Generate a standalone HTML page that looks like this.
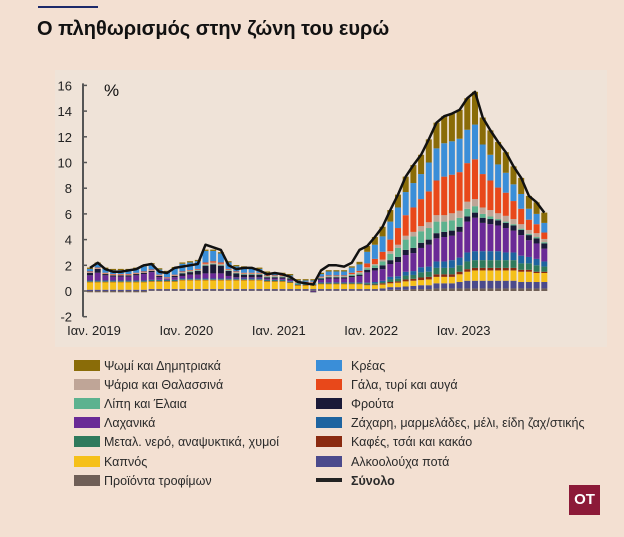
<!DOCTYPE html>
<html><head><meta charset="utf-8"><style>
body{margin:0;width:624px;height:537px;background:#f3e0d2;font-family:"Liberation Sans","DejaVu Sans",sans-serif;overflow:hidden;position:relative}
.lg{position:absolute;font-size:12.5px;color:#2a2a2a;height:14px;line-height:14px}
.sw{position:absolute;width:26px;height:11px}
</style></head><body>
<div style="position:absolute;left:38px;top:6px;width:60px;height:2px;background:#1d2a6b"></div>
<div style="position:absolute;left:37px;top:18px;font-size:20px;font-weight:bold;color:#111">Ο πληθωρισμός στην ζώνη του ευρώ</div>
<div style="position:absolute;left:55px;top:70px;width:552px;height:277px;background:#efe3d8"></div>
<svg id="chart" width="624" height="537" style="position:absolute;left:0;top:0"></svg>
<div id="legend"></div>
<div style="position:absolute;left:569px;top:485px;width:31px;height:30px;background:#8c1a38;color:#fff;font-weight:bold;font-size:15px;line-height:30px;text-align:center">OT</div>
<script>
const years=["Ιαν. 2019","Ιαν. 2020","Ιαν. 2021","Ιαν. 2022","Ιαν. 2023"];
const yTicks=[-2,0,2,4,6,8,10,12,14,16];
const total=[1.8,2.2,1.7,1.5,1.5,1.6,1.7,2.0,2.1,1.5,1.4,1.8,
1.9,2.0,2.1,3.6,3.4,3.2,2.0,1.7,1.8,1.8,1.6,1.3,
1.4,1.3,1.1,0.7,0.6,0.5,1.6,2.0,2.0,1.9,2.2,3.2,
3.5,4.2,5.0,6.3,7.5,8.9,9.8,10.6,11.8,13.1,13.6,13.8,
14.1,15.0,15.5,13.5,12.5,11.6,10.8,9.7,8.8,7.4,6.9,6.1];
const bread=[0.1,0.1,0.1,0.1,0.1,0.1,0.1,0.1,0.1,0.1,0.1,0.1,0.1,0.1,0.1,0.1,0.1,0.1,0.1,0.1,0.1,0.1,0.1,0.1,0.1,0.1,0.1,0.1,0.1,0.1,0.1,0.1,0.1,0.1,0.1,0.2,
0.45,0.6,0.75,0.9,1.0,1.2,1.4,1.5,1.8,2.0,2.1,2.15,2.25,2.45,2.55,2.1,1.9,1.75,1.6,1.4,1.25,1.0,0.9,0.8];
const fish=[0.05,0.05,0.05,0.05,0.05,0.05,0.05,0.05,0.05,0.05,0.05,0.05,0.05,0.05,0.05,0.1,0.1,0.1,0.05,0.05,0.05,0.05,0.05,0.05,0.05,0.05,0.05,0.05,0.05,0.05,0.05,0.05,0.05,0.05,0.05,0.1,
0.1,0.1,0.15,0.2,0.25,0.3,0.35,0.4,0.45,0.5,0.5,0.55,0.55,0.55,0.55,0.5,0.5,0.45,0.45,0.4,0.35,0.3,0.3,0.25];
const oils=[0,0,0,0,0,0,0,0,0,0,0,0,0.05,0.05,0.05,0.05,0.05,0.05,0.05,0.05,0.05,0.05,0.05,0.05,0.05,0.05,0.05,0.05,0.05,0.05,0.05,0.05,0.05,0.05,0.1,0.1,
0.1,0.2,0.3,0.5,0.7,0.8,0.9,0.9,0.9,0.9,0.8,0.8,0.7,0.6,0.5,0.3,0.2,0.1,0.1,0.1,0.1,0.1,0.1,0.1];
const veg=[0.4,0.6,0.4,0.3,0.3,0.3,0.4,0.5,0.6,0.2,0.1,0.2,0.2,0.3,0.3,0.4,0.4,0.4,0.2,0.1,0.1,0.1,0.1,0.1,0.1,0.1,0.1,0,0,-0.05,0.2,0.3,0.3,0.3,0.4,0.5,
0.8,0.9,0.9,1.0,1.1,1.3,1.4,1.5,1.7,1.8,1.9,1.9,2.0,2.4,2.6,2.2,2.1,2.0,1.9,1.7,1.6,1.3,1.2,1.0];
const water=[0.05,0.05,0.05,0.05,0.05,0.05,0.05,0.05,0.05,0.05,0.05,0.05,0.05,0.05,0.05,0.05,0.05,0.05,0.05,0.05,0.05,0.05,0.05,0.05,0.05,0.05,0.05,0.05,0.05,0.05,0.05,0.05,0.05,0.05,0.05,0.05,
0.1,0.1,0.1,0.2,0.2,0.3,0.3,0.4,0.4,0.5,0.5,0.5,0.5,0.6,0.6,0.6,0.6,0.6,0.6,0.6,0.5,0.5,0.5,0.4];
const tobacco=[0.6,0.6,0.6,0.6,0.6,0.6,0.6,0.6,0.6,0.6,0.6,0.6,0.7,0.7,0.7,0.7,0.7,0.7,0.7,0.7,0.7,0.7,0.7,0.6,0.6,0.6,0.5,0.3,0.3,0.3,0.4,0.4,0.4,0.4,0.4,0.4,
0.3,0.3,0.3,0.3,0.35,0.4,0.4,0.4,0.45,0.5,0.5,0.5,0.6,0.7,0.8,0.8,0.8,0.8,0.8,0.8,0.8,0.8,0.7,0.7];
const food=[-0.1,-0.1,-0.1,-0.1,-0.1,-0.1,-0.1,-0.1,0.05,0.05,0.05,0.05,0.05,0.05,0.05,0.05,0.05,0.05,0.05,0.05,0.05,0.05,0.05,0.05,0.05,0.05,0.05,0.05,0.05,0.05,0.05,0.05,0.05,0.05,0.05,0.05,
0.05,0.05,0.05,0.1,0.1,0.1,0.15,0.15,0.15,0.2,0.2,0.2,0.2,0.2,0.2,0.2,0.2,0.2,0.2,0.2,0.2,0.2,0.2,0.2];
const meat=[0.2,0.3,0.3,0.3,0.3,0.3,0.3,0.4,0.4,0.4,0.4,0.5,0.6,0.6,0.6,0.9,0.8,0.7,0.5,0.4,0.4,0.3,0.3,0.2,0.1,0.1,0.1,0.1,0.1,0.1,0.2,0.3,0.3,0.3,0.4,0.5,
0.9,1.1,1.2,1.4,1.6,1.8,1.9,1.95,2.25,2.5,2.6,2.6,2.6,2.6,2.7,2.3,2.0,1.8,1.55,1.3,1.15,0.85,0.8,0.75];
const milk=[0.05,0.05,0.05,0.05,0.05,0.05,0.05,0.05,0.05,0.05,0.05,0.05,0.05,0.05,0.05,0.1,0.1,0.1,0.05,0.05,0.05,0.05,0.05,0.05,0.05,0.05,0.05,0.05,0.05,0.05,0.05,0.05,0.05,0.05,0.1,0.1,
0.3,0.4,0.6,0.9,1.3,1.6,1.9,2.1,2.4,2.7,3.0,3.0,3.0,3.0,3.1,2.6,2.3,2.0,1.8,1.4,1.2,0.8,0.7,0.5];
const fruit=[0.2,0.3,0.1,0.1,0.1,0.1,0.1,0.1,0.1,0.1,0,0.1,0.2,0.2,0.3,0.6,0.7,0.6,0.4,0.3,0.2,0.2,0.2,0.1,0.1,0.1,0.1,0,0,-0.05,0.1,0.1,0.1,0.1,0.1,0.1,
0.2,0.2,0.3,0.3,0.4,0.4,0.4,0.4,0.4,0.4,0.4,0.4,0.4,0.4,0.4,0.4,0.4,0.4,0.4,0.4,0.4,0.4,0.4,0.4];
const sugar=[0.05,0.05,0.05,0.05,0.05,0.05,0.05,0.05,0.05,0.05,0.05,0.05,0.05,0.05,0.05,0.05,0.05,0.05,0.05,0.05,0.05,0.05,0.05,0.05,0.05,0.05,0.05,0.05,0.05,0.05,0.05,0.05,0.05,0.05,0.05,0.05,
0.05,0.1,0.1,0.2,0.2,0.3,0.3,0.4,0.4,0.5,0.5,0.6,0.6,0.7,0.7,0.7,0.7,0.7,0.6,0.6,0.6,0.5,0.5,0.4];
const coffee=[0.02,0.02,0.02,0.02,0.02,0.02,0.02,0.02,0.02,0.02,0.02,0.02,0.02,0.02,0.02,0.02,0.02,0.02,0.02,0.02,0.02,0.02,0.02,0.02,0.02,0.02,0.02,0.02,0.02,0.02,0.02,0.02,0.02,0.02,0.02,0.02,
0.05,0.05,0.1,0.1,0.1,0.15,0.15,0.2,0.2,0.2,0.2,0.2,0.2,0.2,0.2,0.2,0.2,0.2,0.2,0.2,0.15,0.15,0.1,0.1];
const alcohol=[0.1,0.1,0.1,0.1,0.1,0.1,0.1,0.1,0.1,0.1,0.1,0.1,0.1,0.1,0.1,0.1,0.1,0.1,0.1,0.1,0.1,0.1,0.1,0.1,0.1,0.1,0.1,0.1,0.1,0.1,0.1,0.1,0.1,0.1,0.1,0.1,
0.1,0.1,0.15,0.2,0.2,0.25,0.25,0.3,0.3,0.4,0.4,0.4,0.5,0.6,0.6,0.6,0.6,0.6,0.6,0.6,0.5,0.5,0.5,0.5];
const series=[
 {n:"food-products",l:"Προϊόντα τροφίμων",c:"#6f5f57",v:food},
 {n:"alcohol",l:"Αλκοολούχα ποτά",c:"#4b4a8c",v:alcohol},
 {n:"tobacco",l:"Καπνός",c:"#f5c019",v:tobacco},
 {n:"coffee",l:"Καφές, τσάι και κακάο",c:"#8a2a10",v:coffee},
 {n:"water",l:"Μεταλ. νερό, αναψυκτικά, χυμοί",c:"#2f7a5c",v:water},
 {n:"sugar",l:"Ζάχαρη, μαρμελάδες, μέλι, είδη ζαχ/στικής",c:"#1e64a0",v:sugar},
 {n:"vegetables",l:"Λαχανικά",c:"#6a2a96",v:veg},
 {n:"fruit",l:"Φρούτα",c:"#1a1a38",v:fruit},
 {n:"oils",l:"Λίπη και Έλαια",c:"#5db28f",v:oils},
 {n:"fish",l:"Ψάρια και Θαλασσινά",c:"#bfa597",v:fish},
 {n:"milk",l:"Γάλα, τυρί και αυγά",c:"#e8481a",v:milk},
 {n:"meat",l:"Κρέας",c:"#3a8ed8",v:meat},
 {n:"bread",l:"Ψωμί και Δημητριακά",c:"#8a6c08",v:bread}];
const NS="http://www.w3.org/2000/svg";
const svg=document.getElementById('chart');
const y=v=>291-v*12.85;
const x=i=>90+i*7.7;
function mk(t,a){const e=document.createElementNS(NS,t);for(const k in a)e.setAttribute(k,a[k]);svg.appendChild(e);return e;}
yTicks.forEach(t=>{
 const tx=mk('text',{x:72,y:y(t)+5,'text-anchor':'end','font-size':13,fill:'#222'});tx.textContent=t;
 
 
 const tk=mk('line',{x1:83,x2:87,y1:y(t),y2:y(t),stroke:'#555','stroke-width':1.5});
 
 
});
const ax=mk('line',{x1:83,x2:83,y1:y(16)-2,y2:y(-2),stroke:'#555','stroke-width':2});


const pc=mk('text',{x:104,y:96,'font-size':17,fill:'#111'});pc.textContent='%';


years.forEach((t,k)=>{const tx=mk('text',{x:x(k*12)+4,y:335,'text-anchor':'middle','font-size':13,fill:'#222'});tx.textContent=t;
 
 });
total.forEach((_,i)=>{let pos=0,neg=0;
 series.forEach(s=>{const v=s.v[i];if(!v)return;let y0,y1;
  if(v>0){y0=pos;y1=pos+v;pos=y1;}else{y0=neg+v;y1=neg;neg=y0;}
  const r=mk('rect',{x:x(i)-3,y:y(y1),width:6,height:Math.max(0.5,y(y0)-y(y1)),fill:s.c});
  
  });
});
const pl=mk('polyline',{points:total.map((v,i)=>x(i)+','+y(v)).join(' '),fill:'none',stroke:'#111','stroke-width':2.5,'stroke-linejoin':'round'});


const leg=document.getElementById('legend');
const order=["bread","fish","oils","vegetables","water","tobacco","food-products","meat","milk","fruit","sugar","coffee","alcohol"];
order.forEach((n,k)=>{const s=series.find(q=>q.n===n);const col=k<7?0:1,row=k<7?k:k-7;
 const top=359+row*19.1,lx=col?316:74;
 const sw=document.createElement('div');sw.className='sw';sw.style.left=lx+'px';sw.style.top=(top+1)+'px';sw.style.background=s.c;
 
 
 const t=document.createElement('div');t.className='lg';t.style.left=(col?351:104)+'px';t.style.top=top+'px';t.textContent=s.l;
 
 
 leg.appendChild(sw);leg.appendChild(t);});
const sw=document.createElement('div');sw.className='sw';sw.style.left='316px';sw.style.top=(359+6*19.1+4)+'px';sw.style.height='4px';sw.style.background='#222';


const t=document.createElement('div');t.className='lg';t.style.left='351px';t.style.top=(359+6*19.1)+'px';t.style.fontWeight='bold';t.textContent='Σύνολο';


leg.appendChild(sw);leg.appendChild(t);
</script>
</body></html>
